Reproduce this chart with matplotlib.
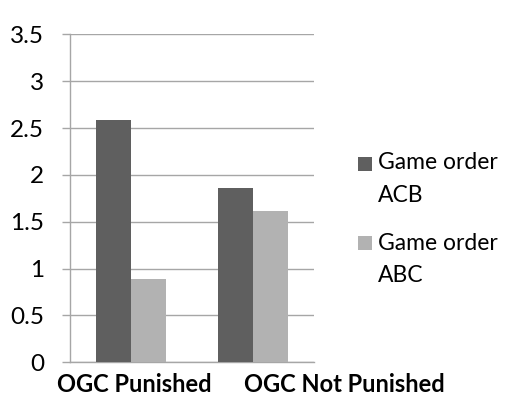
import matplotlib
matplotlib.use("Agg")
import matplotlib.pyplot as plt
import matplotlib.transforms as mtransforms
from matplotlib.patches import Rectangle
import numpy as np

categories = ["OGC Punished", "OGC Not Punished"]
series_names = [["Game order", "ACB"], ["Game order", "ABC"]]
acb_values = [2.59, 1.86]
abc_values = [0.89, 1.61]
y_ticks = [0, 0.5, 1, 1.5, 2, 2.5, 3, 3.5]
y_tick_labels = ["0", "0.5", "1", "1.5", "2", "2.5", "3", "3.5"]

plt.rcParams["font.family"] = ["Lato", "DejaVu Sans"]

W, H = 510, 398
fig = plt.figure(figsize=(W / 100, H / 100), dpi=100)
ax = fig.add_axes([70 / W, 1 - 362.3 / H, 244 / W, 328 / H])

x = np.arange(len(categories))
w = 0.284
dark = "#5f5f5f"
light = "#b2b2b2"
ax.bar(x - w / 2, acb_values, width=w, color=dark, zorder=3)
ax.bar(x + w / 2, abc_values, width=w, color=light, zorder=3)

grid_col = "#a6a6a6"
ax.set_xlim(-0.5, 1.5)
ax.set_ylim(0, 3.5)
ax.set_yticks(y_ticks)
ax.set_yticklabels(y_tick_labels, fontsize=17.5)
ax.yaxis.grid(True, color=grid_col, linewidth=1.0, zorder=0)
ax.tick_params(axis="y", length=5.8, width=1.0, color=grid_col,
               direction="out", pad=13)
ax.set_xticks([])

for side in ["top", "right"]:
    ax.spines[side].set_visible(False)
for side in ["left", "bottom"]:
    ax.spines[side].set_color(grid_col)
    ax.spines[side].set_linewidth(1.0)

# category labels below the axis, bold
label_x = [0.03, 1.75]
trans = mtransforms.blended_transform_factory(ax.transData, fig.transFigure)
for xi, name in zip(label_x, categories):
    ax.text(xi, 1 - 391.7 / H, name, transform=trans, ha="center",
            va="baseline", fontsize=17, fontweight="bold", clip_on=False)

# legend drawn by hand: swatch beside the first line of a two-line label
swatch_tops = [156.7, 235.5]
line_baselines = [[169.3, 202.0], [250.5, 282.0]]
for color, lines, top, bases in zip([dark, light], series_names,
                                    swatch_tops, line_baselines):
    fig.patches.append(Rectangle((357.7 / W, 1 - (top + 14.5) / H),
                                 14.5 / W, 14.5 / H, transform=fig.transFigure,
                                 facecolor=color, edgecolor="none"))
    for line, b in zip(lines, bases):
        fig.text(378 / W, 1 - b / H, line, ha="left", va="baseline",
                 fontsize=16.5)

fig.savefig("out.png", dpi=100)
